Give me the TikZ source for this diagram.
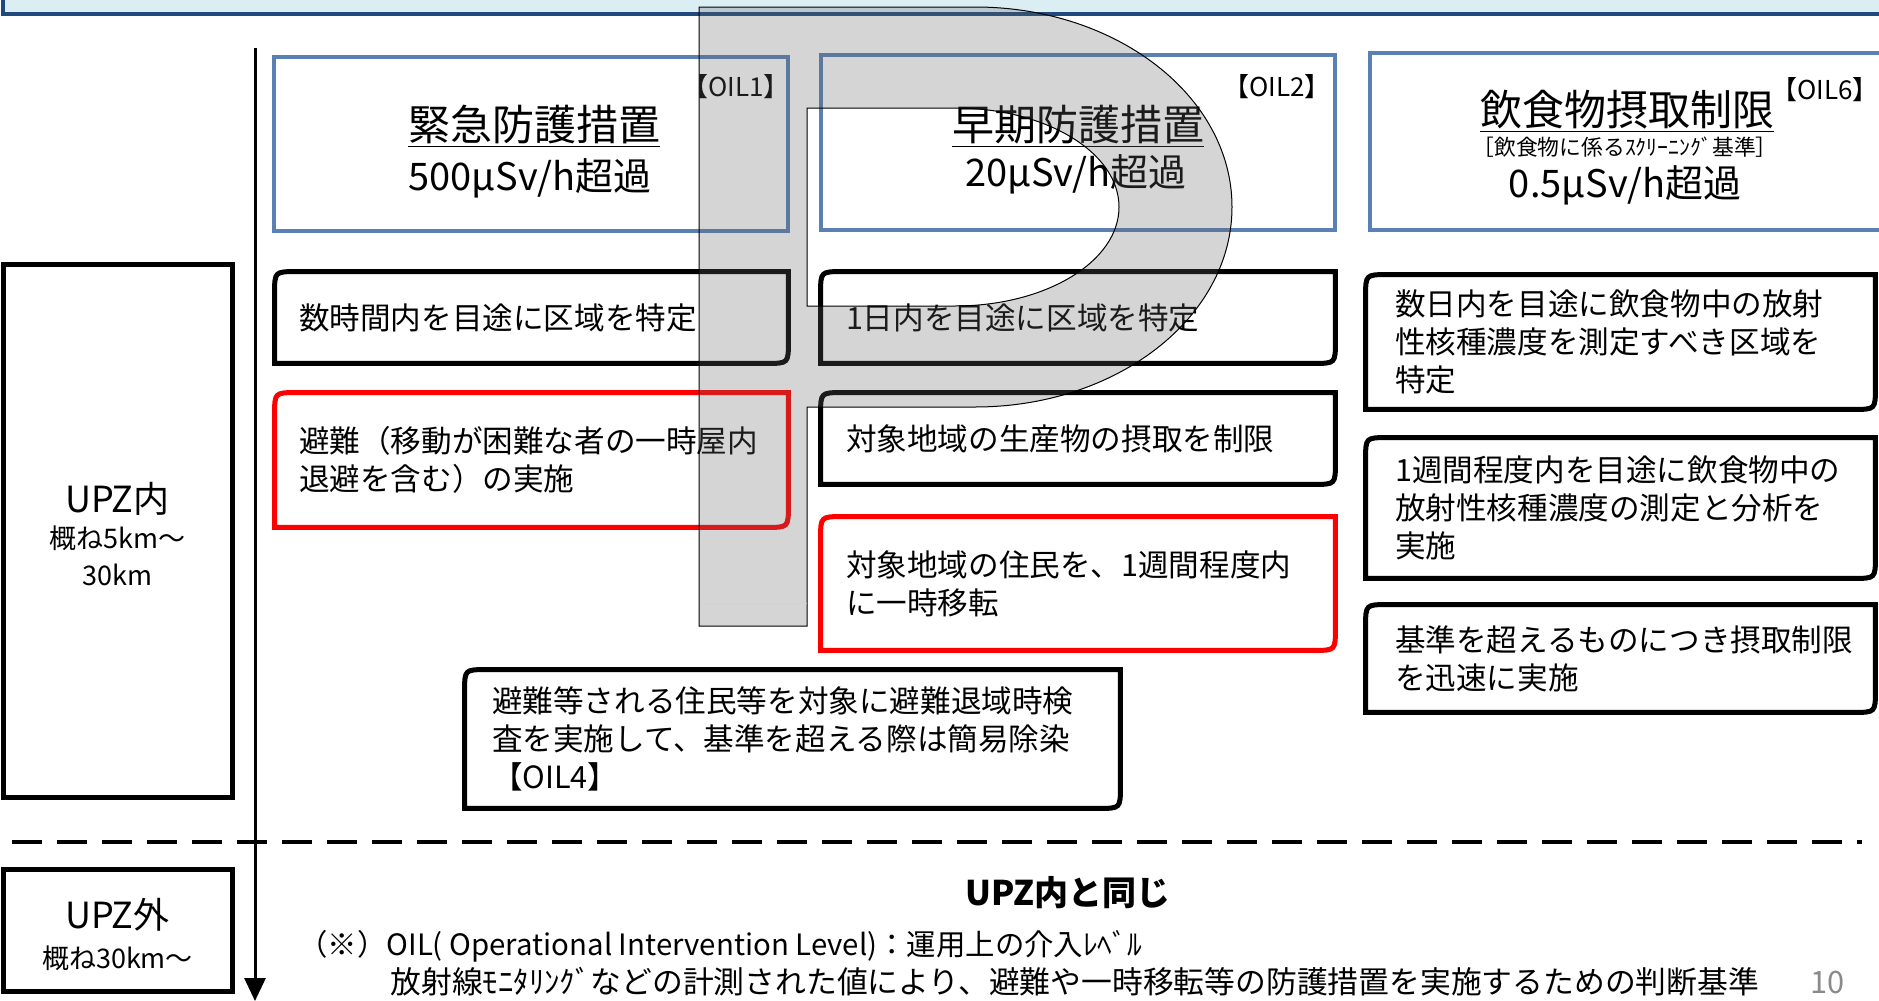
\documentclass[tikz,border=0pt]{standalone}
\usepackage{fontspec}
\setmainfont{Noto Sans CJK JP}
\usetikzlibrary{arrows.meta}
\definecolor{bannerfill}{HTML}{DBEEF4}
\definecolor{bannerline}{HTML}{1F4A7E}
\definecolor{hdrblue}{HTML}{5B80B3}
\definecolor{pgray}{HTML}{646464}
\definecolor{pagenum}{HTML}{8A8A8A}
\newcommand\mytitle{\fontsize{21}{25}\selectfont}
\newcommand\myval{\fontsize{19}{23}\selectfont}
\newcommand\myoil{\fontsize{13}{15}\selectfont}
\newcommand\mysub{\fontsize{10.9}{13}\selectfont}
\newcommand\mybody{\fontsize{15.3}{19}\selectfont}
\newcommand\myupz{\fontsize{18}{21}\selectfont}
\newcommand\mykm{\fontsize{13.5}{16}\selectfont}
\newcommand\myfoot{\fontsize{14.7}{18}\selectfont}
\newcommand\myfootb{\fontsize{15.4}{18}\selectfont}
\newcommand\mysame{\fontsize{17}{20}\selectfont\bfseries}
\tikzset{
  hdrbox/.style={draw=hdrblue, line width=2.25pt, inner sep=0pt},
  sidebox/.style={draw=black, line width=2.5pt, inner sep=0pt},
  boxtext/.style={inner ysep=0pt, align=left, font=\mybody},
  boxline/.style={line width=2.5pt},
}
% name, x1, y1, x2, y2, text offset, colour, text
\newcommand\tbox[8]{%
  \pgfmathsetmacro\tbw{(#4-#2)*0.5}%
  \pgfmathsetmacro\tbh{(#5-#3)*0.5}%
  \pgfmathsetmacro\tbt{(#4-#2-2*#6)*0.5}%
  \pgfmathsetmacro\tbo{#6*0.5}%
  \node[boxtext, minimum width=\tbw pt, minimum height=\tbh pt, text width=\tbt pt, inner xsep=\tbo pt] (#1) at ({(#2+#4)/2},{(#3+#5)/2}) {#8};
  \draw[boxline, draw=#7] (#1.south west) -- ([yshift=-11pt]#1.north west) .. controls (#1.north west) .. ([xshift=11pt]#1.north west) -- (#1.north east) -- ([yshift=11pt]#1.south east) .. controls (#1.south east) .. ([xshift=-11pt]#1.south east) -- cycle;
}
\begin{document}
\begin{tikzpicture}[x=0.5pt,y=-0.5pt]
\useasboundingbox (0,0) rectangle (1879,1001);
% banner
\fill[bannerfill] (3,-20) rectangle (1890,14);
\draw[bannerline,line width=1.6pt] (3,-20) -- (3,14) -- (1890,14);
% axis
\coordinate (axtop) at (255,48);
\coordinate (axbot) at (255,1001);
\draw[line width=1.5pt,-{Triangle[width=10.5pt,length=11.5pt]}] (axtop) -- (axbot);
% header boxes
\node[hdrbox,minimum width=257pt,minimum height=87pt] (h1) at (531,144) {};
\node[hdrbox,minimum width=257pt,minimum height=87.5pt] (h2) at (1078,142.5) {};
\node[hdrbox,minimum width=257.5pt,minimum height=88.5pt] (h3) at (1627.5,141.5) {};
\node[font=\myoil, anchor=base east, inner sep=0pt] (o1) at (790,96) {【OIL1】};
\node[font=\myoil, anchor=base east, inner sep=0pt] (o2) at (1331,96) {【OIL2】};
\node[font=\myoil, anchor=base east, inner sep=0pt] (o6) at (1879,99) {【OIL6】};
\node[font=\mytitle, anchor=base, inner sep=0pt] (t1) at (534,140) {\underline{緊急防護措置}};
\node[font=\myval, anchor=base, inner sep=0pt] (v1) at (530,190) {500μSv/h超過};
\node[font=\mytitle, anchor=base, inner sep=0pt] (t2) at (1078,140) {\underline{早期防護措置}};
\node[font=\myval, anchor=base, inner sep=0pt] (v2) at (1076,186) {20μSv/h超過};
\node[font=\mytitle, anchor=base, inner sep=0pt] (t3) at (1627,125) {\underline{飲食物摂取制限}};
\node[font=\mysub, anchor=base, inner sep=0pt] (s3) at (1625,155) {［飲食物に係るｽｸﾘｰﾆﾝｸﾞ基準］};
\node[font=\myval, anchor=base, inner sep=0pt] (v3) at (1625,197) {0.5μSv/h超過};
% side boxes
\node[sidebox,minimum width=114.5pt,minimum height=266.5pt] (upzin) at (117.5,530.5) {};
\node[font=\myupz, anchor=base, inner sep=0pt] (upzinA) at (117.5,512) {UPZ内};
\node[font=\mykm, anchor=base, inner sep=0pt] (upzinB) at (117.5,548) {概ね5km～};
\node[font=\mykm, anchor=base, inner sep=0pt] (upzinC) at (117.5,585) {30km};
\node[sidebox,minimum width=114.5pt,minimum height=61pt] (upzout) at (117.5,930) {};
\node[font=\myupz, anchor=base, inner sep=0pt] (upzoutA) at (117.5,928) {UPZ外};
\node[font=\mykm, anchor=base, inner sep=0pt] (upzoutB) at (117.5,968) {概ね30km～};
% measure boxes
\tbox{ba}{275}{272}{788}{363}{24}{black}{数時間内を目途に区域を特定}
\tbox{bb}{275}{393}{788}{527}{24}{red}{避難（移動が困難な者の一時屋内\\退避を含む）の実施}
\tbox{bc}{821}{272}{1335}{363}{25}{black}{1日内を目途に区域を特定}
\tbox{bd}{821}{393}{1335}{484}{25}{black}{対象地域の生産物の摂取を制限}
\tbox{be}{821}{517}{1335}{650}{25}{red}{対象地域の住民を、1週間程度内\\に一時移転}
\tbox{bf}{1366}{275}{1875}{409}{29}{black}{数日内を目途に飲食物中の放射\\性核種濃度を測定すべき区域を\\特定}
\tbox{bg}{1366}{438}{1875}{578}{29}{black}{1週間程度内を目途に飲食物中の\\放射性核種濃度の測定と分析を\\実施}
\tbox{bh}{1366}{605}{1875}{712}{29}{black}{基準を超えるものにつき摂取制限\\を迅速に実施}
\tbox{bi}{465}{670}{1120}{808}{27}{black}{避難等される住民等を対象に避難退域時検\\査を実施して、基準を超える際は簡易除染\\【OIL4】}
% dashed separator
\coordinate (dl) at (12,842);
\coordinate (dr) at (1862,842);
\draw[line width=2.2pt, dash pattern=on 15pt off 7.5pt] (dl) -- (dr);
% bottom texts
\node[font=\mysame, anchor=base, inner sep=0pt] (same) at (1068,905) {UPZ内と同じ};
\node[font=\myfoot, anchor=base west, inner sep=0pt] (f1) at (298,955) {（※）OIL( Operational Intervention Level)：運用上の介入ﾚﾍﾞﾙ};
\node[font=\myfootb, anchor=base west, inner sep=0pt] (f2) at (390,993) {放射線ﾓﾆﾀﾘﾝｸﾞなどの計測された値により、避難や一時移転等の防護措置を実施するための判断基準};
\node[font=\myfootb, text=pagenum, anchor=base east, inner sep=0pt] (pg) at (1845,993) {10};
% grey P overlay
\path[draw=black, line width=0.5pt, fill=pgray, fill opacity=0.27, even odd rule]
  (699,7) -- (975,7) .. controls (1117,7) and (1232,96.5) .. (1232,207)
  .. controls (1232,317.5) and (1117,407) .. (975,407) -- (807,407) -- (807,626) -- (699,626) -- cycle
  (807,108) -- (955,108) .. controls (1045.6,108) and (1119,152.3) .. (1119,207)
  .. controls (1119,261.7) and (1045.6,306) .. (955,306) -- (807,306) -- cycle;
\draw[gray!35, line width=0.5pt] (699.5,603) -- (806.5,603);
\end{tikzpicture}
\end{document}
